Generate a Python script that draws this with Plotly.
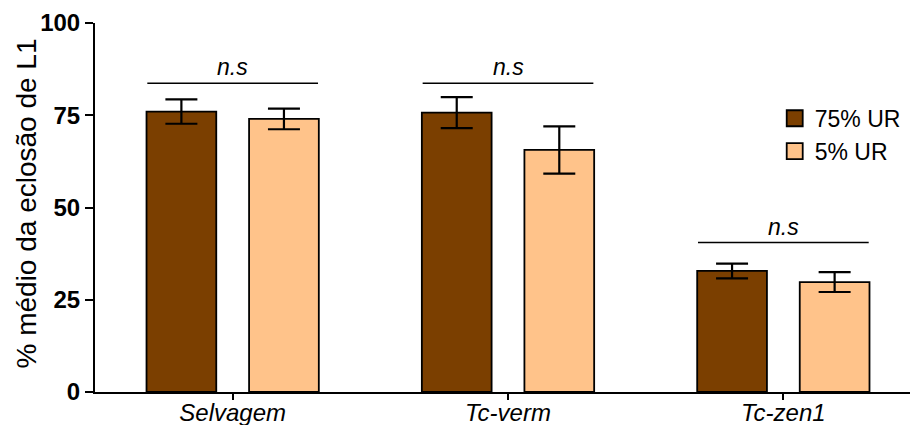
import plotly.graph_objects as go

categories = ["Selvagem", "Tc-verm", "Tc-zen1"]
series_names = ["75% UR", "5% UR"]
values_75 = [76.0, 75.7, 32.8]
errors_75 = [3.3, 4.2, 2.0]
values_5 = [74.0, 65.6, 29.8]
errors_5 = [2.8, 6.4, 2.7]
sig_labels = ["n.s", "n.s", "n.s"]
sig_y = [83.7, 83.7, 40.5]
y_ticks = [0, 25, 50, 75, 100]

colors = ["#7B3F00", "#FFC38A"]
FONT = "Liberation Sans, Arial, sans-serif"

fig = go.Figure()
series = [(series_names[0], values_75, errors_75, colors[0]),
          (series_names[1], values_5, errors_5, colors[1])]
for name, vals, errs, col in series:
    fig.add_trace(go.Bar(
        x=list(range(len(categories))), y=vals, name=name, showlegend=False,
        marker=dict(color=col, line=dict(color="black", width=1.8)),
        error_y=dict(type="data", array=errs, visible=True, color="black",
                     thickness=2.2, width=16),
    ))
# legend entries (square swatches)
for name, vals, errs, col in series:
    fig.add_trace(go.Scatter(
        x=[None], y=[None], mode="markers", name=name,
        marker=dict(symbol="square", size=20, color=col, line=dict(color="black", width=1.8)),
    ))

shapes = []
annotations = []
for i, (lab, yv) in enumerate(zip(sig_labels, sig_y)):
    shapes.append(dict(type="line", xref="x", yref="y", x0=i - 0.31, x1=i + 0.31,
                       y0=yv, y1=yv, line=dict(color="black", width=1.5)))
    annotations.append(dict(x=i, y=yv, xref="x", yref="y", text=f"<i>{lab}</i>",
                            showarrow=False, yanchor="bottom", yshift=1,
                            font=dict(family=FONT, size=23, color="black")))

annotations.append(dict(x=0, y=0.5, xref="paper", yref="paper", xanchor="center",
                        yanchor="middle", xshift=-69, yshift=4,
                        text="% médio da eclosão de L1", textangle=-90, showarrow=False,
                        font=dict(family=FONT, size=28, color="black")))

fig.update_layout(
    width=910, height=425,
    margin=dict(l=95, r=0, t=23, b=33),
    plot_bgcolor="white", paper_bgcolor="white",
    barmode="group", bargap=0.255, bargroupgap=0.32,
    font=dict(family=FONT, color="black"),
    shapes=shapes, annotations=annotations,
    legend=dict(x=0.834, y=0.80, xanchor="left", yanchor="top",
                font=dict(family=FONT, size=23, color="black"),
                bgcolor="rgba(0,0,0,0)", itemsizing="trace"),
    showlegend=True,
)
fig.update_xaxes(
    range=[-0.5, 2.46], tickvals=list(range(len(categories))),
    ticktext=[f"<i>{c}</i>" for c in categories], automargin=False,
    showline=True, linecolor="black", linewidth=2, ticks="outside", ticklen=6,
    tickwidth=2, tickcolor="black", showgrid=False, zeroline=False,
    ticklabelstandoff=-8,
    tickfont=dict(family=FONT, size=24, color="black"),
)
fig.update_yaxes(
    range=[0, 100], tickvals=y_ticks, ticktext=[f"<b>{t}</b>" for t in y_ticks],
    automargin=False,
    showline=True, linecolor="black", linewidth=2, ticks="outside", ticklen=8,
    tickwidth=2, tickcolor="black", showgrid=False, zeroline=False,
    tickfont=dict(family=FONT, size=24, color="black"),
)

fig.write_html("out.html", config={"displayModeBar": False},
               post_script="document.body.style.margin='0';document.body.style.overflow='hidden';")
